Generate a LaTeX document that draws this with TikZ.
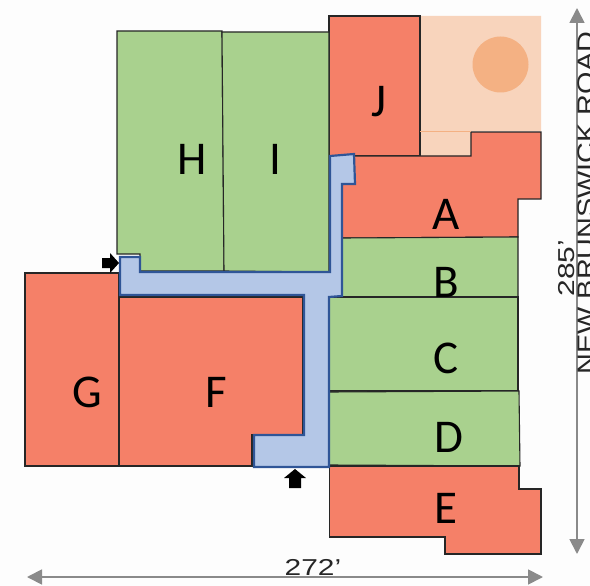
\documentclass[tikz,border=0pt]{standalone}
\usepackage{fontspec}
\setmainfont{Carlito}
\newfontfamily\dimfont{Liberation Sans}
\usetikzlibrary{arrows.meta}
\definecolor{lotred}{HTML}{F58068}
\definecolor{lotgreen}{HTML}{A9D18E}
\definecolor{peach}{HTML}{F8D4BC}
\definecolor{sun}{HTML}{F4B183}
\definecolor{walk}{HTML}{B4C7E7}
\definecolor{walkedge}{HTML}{2F5597}
\definecolor{dimgray}{HTML}{8A8A8A}
\definecolor{paper}{HTML}{FDFDFD}
\tikzset{
  x=1pt,y=-1pt,
  redlot/.style={fill=lotred,draw=black!85,line width=1.1pt,line join=miter},
  greenlot/.style={fill=lotgreen,draw=black!85,line width=1.1pt,line join=miter},
  walkway/.style={fill=walk,draw=walkedge,line width=2.2pt,line join=miter},
  lotlabel/.style={font=\fontsize{47}{47}\selectfont,text=black,inner sep=0pt,anchor=center},
  dimline/.style={draw=dimgray,line width=1.8pt,{Triangle[length=15pt,width=15pt]}-{Triangle[length=15pt,width=15pt]}},
  dimtext/.style={font=\dimfont\fontsize{23}{23}\selectfont,text=black!85,inner sep=0pt},
  entry/.style={fill=black,draw=none}
}
\begin{document}
\begin{tikzpicture}
\useasboundingbox (0,0) rectangle (590,586);
\clip (0,0) rectangle (590,586);
\fill[paper] (0,0) rectangle (590,586);
% peach yard
\fill[peach] (420,16) -- (541,16) -- (541,131) -- (471,131) -- (471,156) -- (420,156) -- cycle;
\fill[sun] (500.5,64.5) circle (28);
% lots
\path[redlot] (329,16) rectangle (420,156);
\path[redlot] (342,156) -- (471,156) -- (471,132) -- (541,132) -- (541,199) -- (518,199) -- (518,237) -- (342,238) -- cycle;
\path[greenlot] (117,31) -- (222,31) -- (224,271) -- (140,271) -- (140,254) -- (117,254) -- cycle;
\path[greenlot] (222,32) -- (329,32) -- (329,272) -- (224,271) -- cycle;
\path[greenlot] (342,238) -- (518,237) -- (518,297) -- (342,297) -- cycle;
\path[greenlot] (329,297) -- (518,297) -- (518,391) -- (329,391) -- cycle;
\path[greenlot] (329,392) -- (519,391) -- (520,466) -- (329,465) -- cycle;
\path[redlot] (329.5,466) -- (519,466) -- (519,489) -- (541,489) -- (541,554) -- (445,554) -- (445,537) -- (329.5,537) -- cycle;
\path[redlot] (25,273) -- (119,273) -- (119,466) -- (25,466) -- cycle;
\path[redlot] (119,297) -- (303,297) -- (303,435) -- (252,435) -- (252,466) -- (119,466) -- cycle;
\draw[sun,line width=0.6pt] (420,131) -- (471,131);
% walkway
\path[walkway] (330,156) -- (354,154) -- (355,184) -- (342,184) -- (342,296) -- (329,297) -- (329,467) -- (254,467) -- (254,435) -- (304,435) -- (304,295) -- (120,295) -- (120,257) -- (140,257) -- (140,272) -- (330,272) -- cycle;
% entries
\path[entry] (102,258) -- (110,258) -- (110,253) -- (119,263) -- (110,273) -- (110,268) -- (102,268) -- cycle;
\path[entry] (295,469) -- (306,478) -- (301,478) -- (301,488) -- (289,488) -- (289,478) -- (284,478) -- cycle;
% labels
\node[lotlabel] (lotH) at (192.5,159) {H};
\node[lotlabel] (lotI) at (275,159) {I};
\node[lotlabel] (lotJ) at (379,102) {J};
\node[lotlabel] (lotA) at (446,214) {A};
\node[lotlabel] (lotB) at (446,282) {B};
\node[lotlabel] (lotC) at (446,358) {C};
\node[lotlabel] (lotD) at (449,437) {D};
\node[lotlabel] (lotE) at (446,508) {E};
\node[lotlabel] (lotF) at (216,392) {F};
\node[lotlabel] (lotG) at (87,392) {G};
% dimensions
\coordinate (dimT) at (577,8);
\coordinate (dimB) at (577,554);
\coordinate (dimL) at (27,577);
\coordinate (dimR) at (543,577);
\draw[dimline] (dimT) -- (dimB);
\draw[dimline] (dimL) -- (dimR);
\node[dimtext,xscale=1.3] (widthlabel) at (313,567) {272’};
\node[dimtext,rotate=90,xscale=1.3] (heightlabel) at (567,268) {285’};
\node[dimtext,rotate=90,xscale=1.2,font=\dimfont\fontsize{24}{24}\selectfont] (roadlabel) at (586,203) {NEW BRUNSWICK ROAD};
\end{tikzpicture}
\end{document}
